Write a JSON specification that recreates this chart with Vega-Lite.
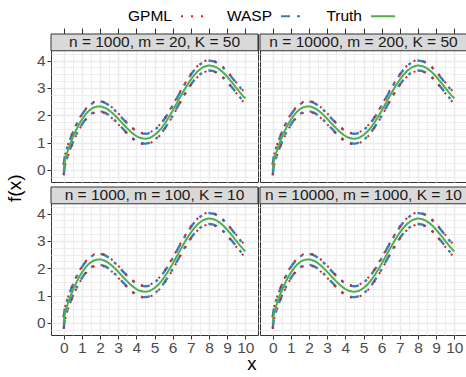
{
"$schema": "https://vega.github.io/schema/vega-lite/v6.json",
"padding": {"left": 5, "top": 3, "right": 0, "bottom": 0},
"datasets": {
"top": [
{"x":0,"t":0,"gl":-0.2,"gu":0.2,"wl":-0.18,"wu":0.18},
{"x":0.05,"t":0.274,"gl":0.074,"gu":0.474,"wl":0.094,"wu":0.454},
{"x":0.1,"t":0.416,"gl":0.216,"gu":0.616,"wl":0.236,"wu":0.596},
{"x":0.25,"t":0.747,"gl":0.547,"gu":0.947,"wl":0.567,"wu":0.927},
{"x":0.5,"t":1.187,"gl":0.987,"gu":1.387,"wl":1.007,"wu":1.367},
{"x":0.75,"t":1.548,"gl":1.348,"gu":1.748,"wl":1.368,"wu":1.728},
{"x":1,"t":1.841,"gl":1.641,"gu":2.041,"wl":1.661,"wu":2.021},
{"x":1.25,"t":2.067,"gl":1.867,"gu":2.267,"wl":1.887,"wu":2.247},
{"x":1.5,"t":2.222,"gl":2.022,"gu":2.422,"wl":2.042,"wu":2.402},
{"x":1.75,"t":2.307,"gl":2.107,"gu":2.507,"wl":2.127,"wu":2.487},
{"x":2,"t":2.324,"gl":2.124,"gu":2.524,"wl":2.144,"wu":2.504},
{"x":2.25,"t":2.278,"gl":2.078,"gu":2.478,"wl":2.098,"wu":2.458},
{"x":2.5,"t":2.18,"gl":1.98,"gu":2.38,"wl":2.0,"wu":2.36},
{"x":2.75,"t":2.04,"gl":1.84,"gu":2.24,"wl":1.86,"wu":2.22},
{"x":3,"t":1.873,"gl":1.673,"gu":2.073,"wl":1.693,"wu":2.053},
{"x":3.25,"t":1.695,"gl":1.495,"gu":1.895,"wl":1.515,"wu":1.875},
{"x":3.5,"t":1.52,"gl":1.32,"gu":1.72,"wl":1.34,"wu":1.7},
{"x":3.75,"t":1.365,"gl":1.165,"gu":1.565,"wl":1.185,"wu":1.545},
{"x":4,"t":1.243,"gl":1.043,"gu":1.443,"wl":1.063,"wu":1.423},
{"x":4.25,"t":1.167,"gl":0.967,"gu":1.367,"wl":0.987,"wu":1.347},
{"x":4.5,"t":1.144,"gl":0.944,"gu":1.344,"wl":0.964,"wu":1.324},
{"x":4.75,"t":1.18,"gl":0.98,"gu":1.38,"wl":1.0,"wu":1.36},
{"x":5,"t":1.277,"gl":1.077,"gu":1.477,"wl":1.097,"wu":1.457},
{"x":5.25,"t":1.432,"gl":1.232,"gu":1.632,"wl":1.252,"wu":1.612},
{"x":5.5,"t":1.64,"gl":1.44,"gu":1.84,"wl":1.46,"wu":1.82},
{"x":5.75,"t":1.89,"gl":1.69,"gu":2.09,"wl":1.71,"wu":2.07},
{"x":6,"t":2.17,"gl":1.97,"gu":2.37,"wl":1.99,"wu":2.35},
{"x":6.25,"t":2.467,"gl":2.267,"gu":2.667,"wl":2.287,"wu":2.647},
{"x":6.5,"t":2.765,"gl":2.565,"gu":2.965,"wl":2.585,"wu":2.945},
{"x":6.75,"t":3.048,"gl":2.848,"gu":3.248,"wl":2.868,"wu":3.228},
{"x":7,"t":3.303,"gl":3.103,"gu":3.503,"wl":3.123,"wu":3.483},
{"x":7.25,"t":3.516,"gl":3.316,"gu":3.716,"wl":3.336,"wu":3.696},
{"x":7.5,"t":3.677,"gl":3.477,"gu":3.877,"wl":3.497,"wu":3.857},
{"x":7.75,"t":3.779,"gl":3.579,"gu":3.979,"wl":3.599,"wu":3.959},
{"x":8,"t":3.818,"gl":3.618,"gu":4.018,"wl":3.638,"wu":3.998},
{"x":8.25,"t":3.795,"gl":3.595,"gu":3.995,"wl":3.615,"wu":3.975},
{"x":8.5,"t":3.714,"gl":3.514,"gu":3.914,"wl":3.534,"wu":3.894},
{"x":8.75,"t":3.583,"gl":3.383,"gu":3.783,"wl":3.403,"wu":3.763},
{"x":9,"t":3.412,"gl":3.212,"gu":3.612,"wl":3.232,"wu":3.592},
{"x":9.25,"t":3.215,"gl":3.015,"gu":3.415,"wl":3.035,"wu":3.395},
{"x":9.5,"t":3.007,"gl":2.807,"gu":3.207,"wl":2.827,"wu":3.187},
{"x":9.75,"t":2.803,"gl":2.603,"gu":3.003,"wl":2.623,"wu":2.983},
{"x":10,"t":2.618,"gl":2.418,"gu":2.818,"wl":2.438,"wu":2.798}
],
"bottom": [
{"x":0,"t":0,"gl":-0.22,"gu":0.22,"wl":-0.2,"wu":0.2},
{"x":0.05,"t":0.274,"gl":0.054,"gu":0.494,"wl":0.074,"wu":0.474},
{"x":0.1,"t":0.416,"gl":0.196,"gu":0.636,"wl":0.216,"wu":0.616},
{"x":0.25,"t":0.747,"gl":0.527,"gu":0.967,"wl":0.547,"wu":0.947},
{"x":0.5,"t":1.187,"gl":0.967,"gu":1.407,"wl":0.987,"wu":1.387},
{"x":0.75,"t":1.548,"gl":1.328,"gu":1.768,"wl":1.348,"wu":1.748},
{"x":1,"t":1.841,"gl":1.621,"gu":2.061,"wl":1.641,"wu":2.041},
{"x":1.25,"t":2.067,"gl":1.847,"gu":2.287,"wl":1.867,"wu":2.267},
{"x":1.5,"t":2.222,"gl":2.002,"gu":2.442,"wl":2.022,"wu":2.422},
{"x":1.75,"t":2.307,"gl":2.087,"gu":2.527,"wl":2.107,"wu":2.507},
{"x":2,"t":2.324,"gl":2.104,"gu":2.544,"wl":2.124,"wu":2.524},
{"x":2.25,"t":2.278,"gl":2.058,"gu":2.498,"wl":2.078,"wu":2.478},
{"x":2.5,"t":2.18,"gl":1.96,"gu":2.4,"wl":1.98,"wu":2.38},
{"x":2.75,"t":2.04,"gl":1.82,"gu":2.26,"wl":1.84,"wu":2.24},
{"x":3,"t":1.873,"gl":1.653,"gu":2.093,"wl":1.673,"wu":2.073},
{"x":3.25,"t":1.695,"gl":1.475,"gu":1.915,"wl":1.495,"wu":1.895},
{"x":3.5,"t":1.52,"gl":1.3,"gu":1.74,"wl":1.32,"wu":1.72},
{"x":3.75,"t":1.365,"gl":1.145,"gu":1.585,"wl":1.165,"wu":1.565},
{"x":4,"t":1.243,"gl":1.023,"gu":1.463,"wl":1.043,"wu":1.443},
{"x":4.25,"t":1.167,"gl":0.947,"gu":1.387,"wl":0.967,"wu":1.367},
{"x":4.5,"t":1.144,"gl":0.924,"gu":1.364,"wl":0.944,"wu":1.344},
{"x":4.75,"t":1.18,"gl":0.96,"gu":1.4,"wl":0.98,"wu":1.38},
{"x":5,"t":1.277,"gl":1.057,"gu":1.497,"wl":1.077,"wu":1.477},
{"x":5.25,"t":1.432,"gl":1.212,"gu":1.652,"wl":1.232,"wu":1.632},
{"x":5.5,"t":1.64,"gl":1.42,"gu":1.86,"wl":1.44,"wu":1.84},
{"x":5.75,"t":1.89,"gl":1.67,"gu":2.11,"wl":1.69,"wu":2.09},
{"x":6,"t":2.17,"gl":1.95,"gu":2.39,"wl":1.97,"wu":2.37},
{"x":6.25,"t":2.467,"gl":2.247,"gu":2.687,"wl":2.267,"wu":2.667},
{"x":6.5,"t":2.765,"gl":2.545,"gu":2.985,"wl":2.565,"wu":2.965},
{"x":6.75,"t":3.048,"gl":2.828,"gu":3.268,"wl":2.848,"wu":3.248},
{"x":7,"t":3.303,"gl":3.083,"gu":3.523,"wl":3.103,"wu":3.503},
{"x":7.25,"t":3.516,"gl":3.296,"gu":3.736,"wl":3.316,"wu":3.716},
{"x":7.5,"t":3.677,"gl":3.457,"gu":3.897,"wl":3.477,"wu":3.877},
{"x":7.75,"t":3.779,"gl":3.559,"gu":3.999,"wl":3.579,"wu":3.979},
{"x":8,"t":3.818,"gl":3.598,"gu":4.038,"wl":3.618,"wu":4.018},
{"x":8.25,"t":3.795,"gl":3.575,"gu":4.015,"wl":3.595,"wu":3.995},
{"x":8.5,"t":3.714,"gl":3.494,"gu":3.934,"wl":3.514,"wu":3.914},
{"x":8.75,"t":3.583,"gl":3.363,"gu":3.803,"wl":3.383,"wu":3.783},
{"x":9,"t":3.412,"gl":3.192,"gu":3.632,"wl":3.212,"wu":3.612},
{"x":9.25,"t":3.215,"gl":2.995,"gu":3.435,"wl":3.015,"wu":3.415},
{"x":9.5,"t":3.007,"gl":2.787,"gu":3.227,"wl":2.807,"wu":3.207},
{"x":9.75,"t":2.803,"gl":2.583,"gu":3.023,"wl":2.603,"wu":3.003},
{"x":10,"t":2.618,"gl":2.398,"gu":2.838,"wl":2.418,"wu":2.818}
]
},
"config": {
"font": "Liberation Sans",
"view": {"stroke": "#333333", "strokeWidth": 1},
"concat": {"spacing": 0},
"axis": {"labelFont": "Liberation Sans", "labelFontSize": 15.5, "labelColor": "#4D4D4D", "gridColor": "#EBEBEB", "domain": false, "tickColor": "#333333", "labelOverlap": false, "labelFlush": false, "format": "~g"},
"legend": {"orient": "none", "legendX": 129, "legendY": -31, "direction": "horizontal", "symbolType": "stroke", "symbolSize": 576, "symbolStrokeWidth": 2, "labelFontSize": 15.5, "labelFont": "Liberation Sans", "labelColor": "#000000", "labelAlign": "right", "labelOffset": -34, "columnPadding": 17, "padding": 0}
},
"title": {"text": "f(x)", "orient": "left", "anchor": "middle", "fontSize": 19, "fontWeight": "normal", "color": "#000000", "offset": 11},
"resolve": {"scale": {"color": "shared", "strokeDash": "shared"}, "legend": {"color": "shared", "strokeDash": "shared"}},
"vconcat": [
{"hconcat": [
{"width": 207, "height": 148, "data": {"name": "top"}, "resolve": {"axis": {"x": "independent", "y": "independent"}}, "layer": [
{"mark": {"type": "line", "interpolate": "monotone", "strokeWidth": 2.4, "strokeCap": "butt"}, "encoding": {"x": {"field": "x", "type": "quantitative", "scale": {"domain": [-0.7, 10.7], "nice": false, "zero": false}, "axis": {"orient": "top", "title": null, "values": [0,0.5,1,1.5,2,2.5,3,3.5,4,4.5,5,5.5,6,6.5,7,7.5,8,8.5,9,9.5,10], "labels": false, "tickSize": 6, "tickOpacity": {"condition": {"test": "datum.value % 1 === 0", "value": 1}, "value": 0}, "grid": true, "gridWidth": {"condition": {"test": "datum.value % 1 === 0", "value": 1.6}, "value": 0.9}}}, "y": {"field": "wl", "type": "quantitative", "scale": {"domain": [-0.44, 4.973], "nice": false, "zero": false}, "axis": {"orient": "left", "title": null, "format": "~g", "values": [-0.25,0,0.25,0.5,0.75,1,1.25,1.5,1.75,2,2.25,2.5,2.75,3,3.25,3.5,3.75,4,4.25], "labelExpr": "datum.value % 1 === 0 ? datum.label : ''", "tickSize": 4, "labelPadding": 2, "tickOpacity": {"condition": {"test": "datum.value % 1 === 0", "value": 1}, "value": 0}, "grid": true, "gridWidth": {"condition": {"test": "datum.value % 1 === 0", "value": 1.6}, "value": 0.9}}}, "color": {"datum": "WASP", "type": "nominal", "scale": {"domain": ["GPML", "WASP", "Truth"], "range": ["#E41A1C", "#377EB8", "#4DAF4A"]}, "legend": {"title": null}}, "strokeDash": {"datum": "WASP", "type": "nominal", "scale": {"domain": ["GPML", "WASP", "Truth"], "range": [[2, 8], [9, 7, 3, 7], [1, 0]]}, "legend": {"title": null}}}},
{"mark": {"type": "line", "interpolate": "monotone", "strokeWidth": 2.4, "strokeCap": "butt"}, "encoding": {"x": {"field": "x", "type": "quantitative", "axis": null}, "y": {"field": "wu", "type": "quantitative", "axis": null}, "color": {"datum": "WASP", "type": "nominal"}, "strokeDash": {"datum": "WASP", "type": "nominal"}}},
{"mark": {"type": "line", "interpolate": "monotone", "strokeWidth": 2, "strokeCap": "butt"}, "encoding": {"x": {"field": "x", "type": "quantitative", "axis": null}, "y": {"field": "gl", "type": "quantitative", "axis": null}, "color": {"datum": "GPML", "type": "nominal"}, "strokeDash": {"datum": "GPML", "type": "nominal"}}},
{"mark": {"type": "line", "interpolate": "monotone", "strokeWidth": 2, "strokeCap": "butt"}, "encoding": {"x": {"field": "x", "type": "quantitative", "axis": null}, "y": {"field": "gu", "type": "quantitative", "axis": null}, "color": {"datum": "GPML", "type": "nominal"}, "strokeDash": {"datum": "GPML", "type": "nominal"}}},
{"mark": {"type": "line", "interpolate": "monotone", "strokeWidth": 2}, "encoding": {"x": {"field": "x", "type": "quantitative", "axis": null}, "y": {"field": "t", "type": "quantitative", "axis": null}, "color": {"datum": "Truth", "type": "nominal"}, "strokeDash": {"datum": "Truth", "type": "nominal"}}},
{"transform": [{"aggregate": [{"op": "count", "as": "n"}]}], "mark": {"type": "rect", "fill": "#D9D9D9", "stroke": "#333333", "strokeWidth": 1}, "encoding": {"y": {"datum": 4.36, "type": "quantitative", "axis": null}, "y2": {"datum": 4.973}}},
{"transform": [{"aggregate": [{"op": "count", "as": "n"}]}], "mark": {"type": "text", "fontSize": 15.5, "color": "#1A1A1A", "baseline": "middle", "text": "n = 1000, m = 20, K = 50"}, "encoding": {"y": {"datum": 4.667, "type": "quantitative", "axis": null}}}
]},
{"width": 207, "height": 148, "data": {"name": "top"}, "resolve": {"axis": {"x": "independent", "y": "independent"}}, "layer": [
{"mark": {"type": "line", "interpolate": "monotone", "strokeWidth": 2.4, "strokeCap": "butt"}, "encoding": {"x": {"field": "x", "type": "quantitative", "scale": {"domain": [-0.7, 10.7], "nice": false, "zero": false}, "axis": {"orient": "top", "title": null, "values": [0,0.5,1,1.5,2,2.5,3,3.5,4,4.5,5,5.5,6,6.5,7,7.5,8,8.5,9,9.5,10], "labels": false, "tickSize": 6, "tickOpacity": {"condition": {"test": "datum.value % 1 === 0", "value": 1}, "value": 0}, "grid": true, "gridWidth": {"condition": {"test": "datum.value % 1 === 0", "value": 1.6}, "value": 0.9}}}, "y": {"field": "wl", "type": "quantitative", "scale": {"domain": [-0.44, 4.973], "nice": false, "zero": false}, "axis": {"orient": "left", "title": null, "values": [-0.25,0,0.25,0.5,0.75,1,1.25,1.5,1.75,2,2.25,2.5,2.75,3,3.25,3.5,3.75,4,4.25], "labels": false, "ticks": false, "grid": true, "gridWidth": {"condition": {"test": "datum.value % 1 === 0", "value": 1.6}, "value": 0.9}}}, "color": {"datum": "WASP", "type": "nominal", "scale": {"domain": ["GPML", "WASP", "Truth"], "range": ["#E41A1C", "#377EB8", "#4DAF4A"]}, "legend": {"title": null}}, "strokeDash": {"datum": "WASP", "type": "nominal", "scale": {"domain": ["GPML", "WASP", "Truth"], "range": [[2, 8], [9, 7, 3, 7], [1, 0]]}, "legend": {"title": null}}}},
{"mark": {"type": "line", "interpolate": "monotone", "strokeWidth": 2.4, "strokeCap": "butt"}, "encoding": {"x": {"field": "x", "type": "quantitative", "axis": null}, "y": {"field": "wu", "type": "quantitative", "axis": null}, "color": {"datum": "WASP", "type": "nominal"}, "strokeDash": {"datum": "WASP", "type": "nominal"}}},
{"mark": {"type": "line", "interpolate": "monotone", "strokeWidth": 2, "strokeCap": "butt"}, "encoding": {"x": {"field": "x", "type": "quantitative", "axis": null}, "y": {"field": "gl", "type": "quantitative", "axis": null}, "color": {"datum": "GPML", "type": "nominal"}, "strokeDash": {"datum": "GPML", "type": "nominal"}}},
{"mark": {"type": "line", "interpolate": "monotone", "strokeWidth": 2, "strokeCap": "butt"}, "encoding": {"x": {"field": "x", "type": "quantitative", "axis": null}, "y": {"field": "gu", "type": "quantitative", "axis": null}, "color": {"datum": "GPML", "type": "nominal"}, "strokeDash": {"datum": "GPML", "type": "nominal"}}},
{"mark": {"type": "line", "interpolate": "monotone", "strokeWidth": 2}, "encoding": {"x": {"field": "x", "type": "quantitative", "axis": null}, "y": {"field": "t", "type": "quantitative", "axis": null}, "color": {"datum": "Truth", "type": "nominal"}, "strokeDash": {"datum": "Truth", "type": "nominal"}}},
{"transform": [{"aggregate": [{"op": "count", "as": "n"}]}], "mark": {"type": "rect", "fill": "#D9D9D9", "stroke": "#333333", "strokeWidth": 1}, "encoding": {"y": {"datum": 4.36, "type": "quantitative", "axis": null}, "y2": {"datum": 4.973}}},
{"transform": [{"aggregate": [{"op": "count", "as": "n"}]}], "mark": {"type": "text", "fontSize": 15.5, "color": "#1A1A1A", "baseline": "middle", "text": "n = 10000, m = 200, K = 50"}, "encoding": {"y": {"datum": 4.667, "type": "quantitative", "axis": null}}}
]}
], "resolve": {"scale": {"color": "shared", "strokeDash": "shared"}, "legend": {"color": "shared", "strokeDash": "shared"}}},
{"title": {"text": "x", "orient": "bottom", "anchor": "middle", "fontSize": 18.5, "fontWeight": "normal", "color": "#000000", "offset": -1},
"hconcat": [
{"width": 207, "height": 148, "data": {"name": "bottom"}, "resolve": {"axis": {"x": "independent", "y": "independent"}}, "layer": [
{"mark": {"type": "line", "interpolate": "monotone", "strokeWidth": 2.4, "strokeCap": "butt"}, "encoding": {"x": {"field": "x", "type": "quantitative", "scale": {"domain": [-0.7, 10.7], "nice": false, "zero": false}, "axis": {"orient": "bottom", "title": null, "format": "~g", "values": [0,0.5,1,1.5,2,2.5,3,3.5,4,4.5,5,5.5,6,6.5,7,7.5,8,8.5,9,9.5,10], "labelExpr": "datum.value % 1 === 0 ? datum.label : ''", "tickSize": 4, "labelPadding": 1, "tickOpacity": {"condition": {"test": "datum.value % 1 === 0", "value": 1}, "value": 0}, "grid": true, "gridWidth": {"condition": {"test": "datum.value % 1 === 0", "value": 1.6}, "value": 0.9}}}, "y": {"field": "wl", "type": "quantitative", "scale": {"domain": [-0.44, 4.973], "nice": false, "zero": false}, "axis": {"orient": "left", "title": null, "format": "~g", "values": [-0.25,0,0.25,0.5,0.75,1,1.25,1.5,1.75,2,2.25,2.5,2.75,3,3.25,3.5,3.75,4,4.25], "labelExpr": "datum.value % 1 === 0 ? datum.label : ''", "tickSize": 4, "labelPadding": 2, "tickOpacity": {"condition": {"test": "datum.value % 1 === 0", "value": 1}, "value": 0}, "grid": true, "gridWidth": {"condition": {"test": "datum.value % 1 === 0", "value": 1.6}, "value": 0.9}}}, "color": {"datum": "WASP", "type": "nominal", "scale": {"domain": ["GPML", "WASP", "Truth"], "range": ["#E41A1C", "#377EB8", "#4DAF4A"]}, "legend": {"title": null}}, "strokeDash": {"datum": "WASP", "type": "nominal", "scale": {"domain": ["GPML", "WASP", "Truth"], "range": [[2, 8], [9, 7, 3, 7], [1, 0]]}, "legend": {"title": null}}}},
{"mark": {"type": "line", "interpolate": "monotone", "strokeWidth": 2.4, "strokeCap": "butt"}, "encoding": {"x": {"field": "x", "type": "quantitative", "axis": null}, "y": {"field": "wu", "type": "quantitative", "axis": null}, "color": {"datum": "WASP", "type": "nominal"}, "strokeDash": {"datum": "WASP", "type": "nominal"}}},
{"mark": {"type": "line", "interpolate": "monotone", "strokeWidth": 2, "strokeCap": "butt"}, "encoding": {"x": {"field": "x", "type": "quantitative", "axis": null}, "y": {"field": "gl", "type": "quantitative", "axis": null}, "color": {"datum": "GPML", "type": "nominal"}, "strokeDash": {"datum": "GPML", "type": "nominal"}}},
{"mark": {"type": "line", "interpolate": "monotone", "strokeWidth": 2, "strokeCap": "butt"}, "encoding": {"x": {"field": "x", "type": "quantitative", "axis": null}, "y": {"field": "gu", "type": "quantitative", "axis": null}, "color": {"datum": "GPML", "type": "nominal"}, "strokeDash": {"datum": "GPML", "type": "nominal"}}},
{"mark": {"type": "line", "interpolate": "monotone", "strokeWidth": 2}, "encoding": {"x": {"field": "x", "type": "quantitative", "axis": null}, "y": {"field": "t", "type": "quantitative", "axis": null}, "color": {"datum": "Truth", "type": "nominal"}, "strokeDash": {"datum": "Truth", "type": "nominal"}}},
{"transform": [{"aggregate": [{"op": "count", "as": "n"}]}], "mark": {"type": "rect", "fill": "#D9D9D9", "stroke": "#333333", "strokeWidth": 1}, "encoding": {"y": {"datum": 4.36, "type": "quantitative", "axis": null}, "y2": {"datum": 4.973}}},
{"transform": [{"aggregate": [{"op": "count", "as": "n"}]}], "mark": {"type": "text", "fontSize": 15.5, "color": "#1A1A1A", "baseline": "middle", "text": "n = 1000, m = 100, K = 10"}, "encoding": {"y": {"datum": 4.667, "type": "quantitative", "axis": null}}}
]},
{"width": 207, "height": 148, "data": {"name": "bottom"}, "resolve": {"axis": {"x": "independent", "y": "independent"}}, "layer": [
{"mark": {"type": "line", "interpolate": "monotone", "strokeWidth": 2.4, "strokeCap": "butt"}, "encoding": {"x": {"field": "x", "type": "quantitative", "scale": {"domain": [-0.7, 10.7], "nice": false, "zero": false}, "axis": {"orient": "bottom", "title": null, "format": "~g", "values": [0,0.5,1,1.5,2,2.5,3,3.5,4,4.5,5,5.5,6,6.5,7,7.5,8,8.5,9,9.5,10], "labelExpr": "datum.value % 1 === 0 ? datum.label : ''", "tickSize": 4, "labelPadding": 1, "tickOpacity": {"condition": {"test": "datum.value % 1 === 0", "value": 1}, "value": 0}, "grid": true, "gridWidth": {"condition": {"test": "datum.value % 1 === 0", "value": 1.6}, "value": 0.9}}}, "y": {"field": "wl", "type": "quantitative", "scale": {"domain": [-0.44, 4.973], "nice": false, "zero": false}, "axis": {"orient": "left", "title": null, "values": [-0.25,0,0.25,0.5,0.75,1,1.25,1.5,1.75,2,2.25,2.5,2.75,3,3.25,3.5,3.75,4,4.25], "labels": false, "ticks": false, "grid": true, "gridWidth": {"condition": {"test": "datum.value % 1 === 0", "value": 1.6}, "value": 0.9}}}, "color": {"datum": "WASP", "type": "nominal", "scale": {"domain": ["GPML", "WASP", "Truth"], "range": ["#E41A1C", "#377EB8", "#4DAF4A"]}, "legend": {"title": null}}, "strokeDash": {"datum": "WASP", "type": "nominal", "scale": {"domain": ["GPML", "WASP", "Truth"], "range": [[2, 8], [9, 7, 3, 7], [1, 0]]}, "legend": {"title": null}}}},
{"mark": {"type": "line", "interpolate": "monotone", "strokeWidth": 2.4, "strokeCap": "butt"}, "encoding": {"x": {"field": "x", "type": "quantitative", "axis": null}, "y": {"field": "wu", "type": "quantitative", "axis": null}, "color": {"datum": "WASP", "type": "nominal"}, "strokeDash": {"datum": "WASP", "type": "nominal"}}},
{"mark": {"type": "line", "interpolate": "monotone", "strokeWidth": 2, "strokeCap": "butt"}, "encoding": {"x": {"field": "x", "type": "quantitative", "axis": null}, "y": {"field": "gl", "type": "quantitative", "axis": null}, "color": {"datum": "GPML", "type": "nominal"}, "strokeDash": {"datum": "GPML", "type": "nominal"}}},
{"mark": {"type": "line", "interpolate": "monotone", "strokeWidth": 2, "strokeCap": "butt"}, "encoding": {"x": {"field": "x", "type": "quantitative", "axis": null}, "y": {"field": "gu", "type": "quantitative", "axis": null}, "color": {"datum": "GPML", "type": "nominal"}, "strokeDash": {"datum": "GPML", "type": "nominal"}}},
{"mark": {"type": "line", "interpolate": "monotone", "strokeWidth": 2}, "encoding": {"x": {"field": "x", "type": "quantitative", "axis": null}, "y": {"field": "t", "type": "quantitative", "axis": null}, "color": {"datum": "Truth", "type": "nominal"}, "strokeDash": {"datum": "Truth", "type": "nominal"}}},
{"transform": [{"aggregate": [{"op": "count", "as": "n"}]}], "mark": {"type": "rect", "fill": "#D9D9D9", "stroke": "#333333", "strokeWidth": 1}, "encoding": {"y": {"datum": 4.36, "type": "quantitative", "axis": null}, "y2": {"datum": 4.973}}},
{"transform": [{"aggregate": [{"op": "count", "as": "n"}]}], "mark": {"type": "text", "fontSize": 15.5, "color": "#1A1A1A", "baseline": "middle", "text": "n = 10000, m = 1000, K = 10"}, "encoding": {"y": {"datum": 4.667, "type": "quantitative", "axis": null}}}
]}
], "resolve": {"scale": {"color": "shared", "strokeDash": "shared"}, "legend": {"color": "shared", "strokeDash": "shared"}}}
]
}
